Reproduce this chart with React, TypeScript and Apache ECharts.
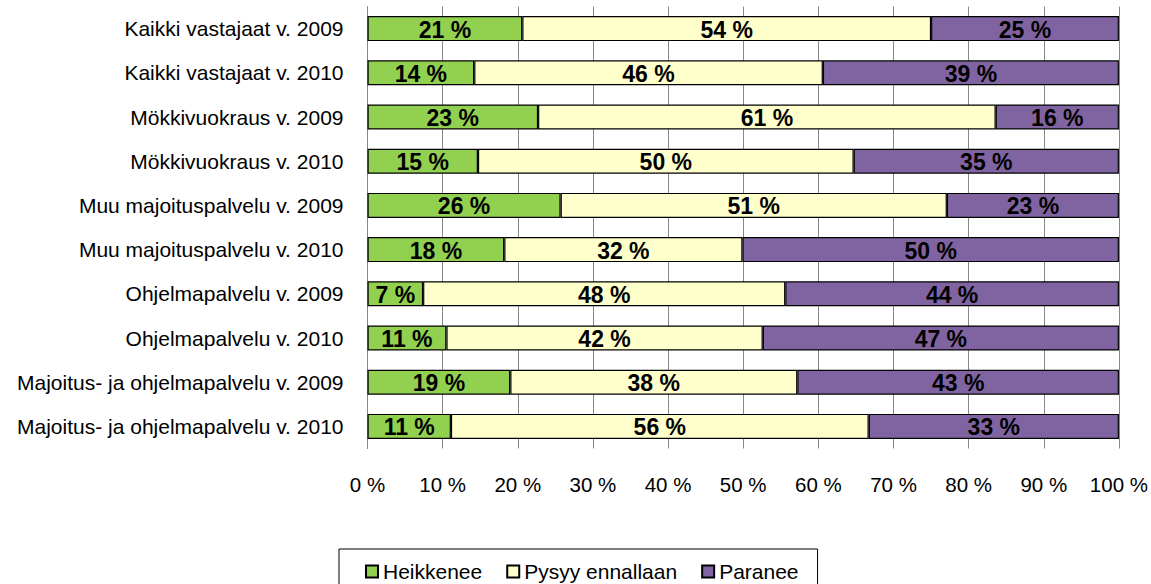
import React, { useEffect, useRef } from "react";
import * as echarts from "echarts";

const categories = [
  "Kaikki vastajaat v. 2009",
  "Kaikki vastajaat v. 2010",
  "Mökkivuokraus v. 2009",
  "Mökkivuokraus v. 2010",
  "Muu majoituspalvelu v. 2009",
  "Muu majoituspalvelu v. 2010",
  "Ohjelmapalvelu v. 2009",
  "Ohjelmapalvelu v. 2010",
  "Majoitus- ja ohjelmapalvelu v. 2009",
  "Majoitus- ja ohjelmapalvelu v. 2010",
];
const seriesNames = ["Heikkenee", "Pysyy ennallaan", "Paranee"];
const heikkenee = [20.6, 14.2, 22.7, 14.7, 25.7, 18.2, 7.4, 10.5, 19.0, 11.1];
const pysyy = [54.4, 46.4, 60.9, 50.0, 51.4, 31.7, 48.2, 42.1, 38.2, 55.6];
const paranee = [25.0, 39.4, 16.4, 35.3, 22.9, 50.1, 44.4, 47.4, 42.8, 33.3];
const colors = ["#92D050", "#FFFFCC", "#8064A2"];

const FONT = "'Liberation Sans', Arial, sans-serif";

export default function App() {
  const ref = useRef<HTMLDivElement>(null);
  useEffect(() => {
    if (!ref.current) return;
    const chart = echarts.init(ref.current, undefined, { renderer: "svg" });
    const data = [heikkenee, pysyy, paranee];
    chart.setOption({
      animation: false,
      backgroundColor: "#ffffff",
      textStyle: { fontFamily: FONT },
      grid: { left: 367.5, right: 32, top: 6.5, bottom: 135.5, containLabel: false },
      legend: {
        left: 339,
        top: 549,
        orient: "horizontal",
        borderColor: "#000",
        borderWidth: 1,
        padding: [12, 19, 12, 26],
        itemWidth: 12,
        itemHeight: 12,
        itemGap: 24,
        icon: "rect",
        textStyle: { fontFamily: FONT, fontSize: 21, color: "#000" },
        data: seriesNames,
      },
      xAxis: {
        type: "value",
        min: 0,
        max: 100,
        interval: 10,
        axisLine: { show: false },
        axisTick: { show: false },
        splitLine: { show: true, lineStyle: { color: "#888", width: 1 } },
        axisLabel: {
          formatter: "{value} %",
          fontFamily: FONT,
          fontSize: 20.5,
          color: "#000",
          margin: 25,
        },
      },
      yAxis: {
        type: "category",
        inverse: true,
        data: categories,
        axisLine: { show: true, lineStyle: { color: "#888", width: 1 } },
        axisTick: { show: false },
        axisLabel: { fontFamily: FONT, fontSize: 21, color: "#000", margin: 24 },
      },
      series: seriesNames.map((name, i) => ({
        name,
        type: "bar",
        stack: "total",
        barWidth: 25,
        data: data[i],
        itemStyle: { color: colors[i], borderColor: "#000", borderWidth: 1.2 },
        label: {
          show: true,
          position: "inside",
          formatter: (p: any) => Math.round(p.value) + " %",
          fontFamily: FONT,
          fontWeight: "bold",
          fontSize: 23,
          color: "#000",
          offset: [0, 1],
        },
      })),
    });
    return () => chart.dispose();
  }, []);
  return (
    <div
      ref={ref}
      style={{ position: "fixed", left: 0, top: 0, width: 1151, height: 584 }}
    />
  );
}
